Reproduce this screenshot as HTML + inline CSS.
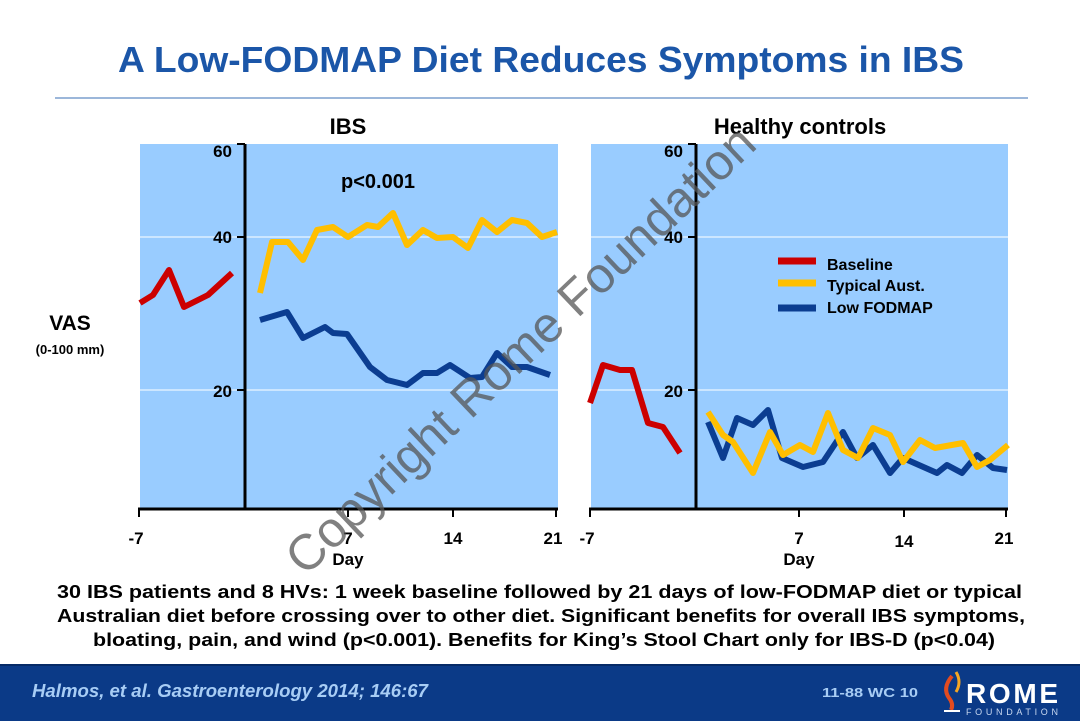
<!DOCTYPE html>
<html><head><meta charset="utf-8"><style>
body{margin:0;width:1080px;height:721px;background:#fff;overflow:hidden;position:relative;font-family:"Liberation Sans",sans-serif;}
</style></head><body>
<svg width="1080" height="721" style="position:absolute;left:0;top:0" font-family="Liberation Sans, sans-serif">
<text x="118" y="72" font-size="36" font-weight="bold" fill="#1b56a8" textLength="846" lengthAdjust="spacingAndGlyphs">A Low-FODMAP Diet Reduces Symptoms in IBS</text>
<line x1="55" y1="98" x2="1028" y2="98" stroke="#3a6fb5" stroke-width="1"/>
<text x="348" y="134" text-anchor="middle" font-size="22" font-weight="bold">IBS</text>
<text x="800" y="134" text-anchor="middle" font-size="22" font-weight="bold">Healthy controls</text>
<text x="70" y="330" text-anchor="middle" font-size="21" font-weight="bold">VAS</text>
<text x="70" y="354" text-anchor="middle" font-size="13" font-weight="bold">(0-100 mm)</text>
<!-- left panel -->
<rect x="140" y="144" width="418" height="365" fill="#99ccff"/>
<line x1="140" y1="237" x2="558" y2="237" stroke="#fff" stroke-width="1"/>
<line x1="140" y1="390" x2="558" y2="390" stroke="#fff" stroke-width="1"/>
<line x1="245" y1="144" x2="245" y2="510" stroke="#000" stroke-width="3"/>
<line x1="237" y1="144" x2="245" y2="144" stroke="#000" stroke-width="2"/>
<line x1="237" y1="237" x2="245" y2="237" stroke="#000" stroke-width="2"/>
<line x1="237" y1="390" x2="245" y2="390" stroke="#000" stroke-width="2"/>
<line x1="138" y1="509" x2="558" y2="509" stroke="#000" stroke-width="3"/>
<g stroke="#000" stroke-width="2"><line x1="139" y1="509" x2="139" y2="517"/><line x1="348" y1="509" x2="348" y2="517"/><line x1="453" y1="509" x2="453" y2="517"/><line x1="556" y1="509" x2="556" y2="517"/></g>
<g font-size="17" font-weight="bold" text-anchor="end"><text x="232" y="157">60</text><text x="232" y="243">40</text><text x="232" y="397">20</text></g>
<g font-size="17" font-weight="bold" text-anchor="middle"><text x="136" y="544">-7</text><text x="348" y="544">7</text><text x="453" y="544">14</text><text x="553" y="544">21</text><text x="348" y="565">Day</text></g>
<text x="378" y="188" text-anchor="middle" font-size="20" font-weight="bold">p&lt;0.001</text>
<g fill="none" stroke-width="6" stroke-linejoin="round">
<polyline stroke="#cc0000" points="140,303 153,295 169,270 184,307 208,295 232,273"/>
<polyline stroke="#ffbf00" points="260,293 272,242 288,242 303,260 317,230 333,227 348,237 367,225 378,227 393,213 407,245 423,230 437,238 453,237 468,248 482,220 497,232 512,220 527,223 542,237 557,232"/>
<polyline stroke="#0b3d91" points="260,320 287,312 303,338 325,327 333,333 347,334 370,367 387,380 407,385 423,373 437,373 450,365 470,378 482,377 497,353 512,367 527,367 550,375"/>
</g>
<!-- right panel -->
<rect x="591" y="144" width="417" height="365" fill="#99ccff"/>
<line x1="591" y1="237" x2="1008" y2="237" stroke="#fff" stroke-width="1"/>
<line x1="591" y1="390" x2="1008" y2="390" stroke="#fff" stroke-width="1"/>
<line x1="696" y1="144" x2="696" y2="510" stroke="#000" stroke-width="3"/>
<line x1="688" y1="144" x2="696" y2="144" stroke="#000" stroke-width="2"/>
<line x1="688" y1="237" x2="696" y2="237" stroke="#000" stroke-width="2"/>
<line x1="688" y1="390" x2="696" y2="390" stroke="#000" stroke-width="2"/>
<line x1="589" y1="509" x2="1008" y2="509" stroke="#000" stroke-width="3"/>
<g stroke="#000" stroke-width="2"><line x1="590" y1="509" x2="590" y2="517"/><line x1="799" y1="509" x2="799" y2="517"/><line x1="904" y1="509" x2="904" y2="517"/><line x1="1006" y1="509" x2="1006" y2="517"/></g>
<g font-size="17" font-weight="bold" text-anchor="end"><text x="683" y="157">60</text><text x="683" y="243">40</text><text x="683" y="397">20</text></g>
<g font-size="17" font-weight="bold" text-anchor="middle"><text x="587" y="544">-7</text><text x="799" y="544">7</text><text x="904" y="547">14</text><text x="1004" y="544">21</text><text x="799" y="565">Day</text></g>
<g fill="none" stroke-width="6" stroke-linejoin="round">
<polyline stroke="#cc0000" points="590,403 603,365 620,370 632,370 648,423 663,427 680,453"/>
<polyline stroke="#0b3d91" points="708,422 723,458 737,418 753,425 768,410 782,458 803,467 823,462 843,432 857,458 873,445 890,473 903,458 937,473 947,465 962,473 977,455 993,468 1007,470"/>
<polyline stroke="#ffbf00" points="708,412 723,435 733,442 753,473 770,432 783,455 800,445 813,452 828,413 843,450 858,458 873,428 890,435 903,462 920,440 935,448 963,443 977,467 990,460 1008,445"/>
</g>
<g stroke-width="7"><line x1="778" y1="261" x2="816" y2="261" stroke="#cc0000"/><line x1="778" y1="283" x2="816" y2="283" stroke="#ffbf00"/><line x1="778" y1="308" x2="816" y2="308" stroke="#0b3d91"/></g>
<g font-size="16" font-weight="bold"><text x="827" y="270">Baseline</text><text x="827" y="291">Typical Aust.</text><text x="827" y="313">Low FODMAP</text></g>
<g font-size="18" font-weight="bold" lengthAdjust="spacingAndGlyphs">
<text x="57" y="598" textLength="965" lengthAdjust="spacingAndGlyphs">30 IBS patients and 8 HVs: 1 week baseline followed by 21 days of low-FODMAP diet or typical</text>
<text x="57" y="622" textLength="968" lengthAdjust="spacingAndGlyphs">Australian diet before crossing over to other diet. Significant benefits for overall IBS symptoms,</text>
<text x="93" y="646" textLength="902" lengthAdjust="spacingAndGlyphs">bloating, pain, and wind (p&lt;0.001). Benefits for King’s Stool Chart only for IBS-D (p&lt;0.04)</text>
</g>
<text x="532" y="362" text-anchor="middle" font-size="50" fill="#555" fill-opacity="0.75" transform="rotate(-43.5 532 362)">Copyright Rome Foundation</text>
<rect x="0" y="664" width="1080" height="57" fill="#0b3a87"/>
<line x1="0" y1="665" x2="1080" y2="665" stroke="#062a66" stroke-width="2"/>
<text x="32" y="697" font-size="18" font-style="italic" font-weight="bold" fill="#a8cdf5" textLength="396" lengthAdjust="spacingAndGlyphs">Halmos, et al. Gastroenterology 2014; 146:67</text>
<text x="822" y="697" font-size="13" font-weight="bold" fill="#a8cdf5" textLength="96" lengthAdjust="spacingAndGlyphs">11-88   WC 10</text>
<path d="M952,676 q-10,12 -3,22 q5,6 2,12" stroke="#e34b1f" stroke-width="4" fill="none"/>
<path d="M956,672 q6,10 0,20" stroke="#f5a623" stroke-width="3" fill="none"/>
<line x1="944" y1="711" x2="960" y2="711" stroke="#fff" stroke-width="2"/>
<text x="966" y="703" font-size="28" font-weight="bold" fill="#fff" textLength="92">ROME</text>
<text x="966" y="715" font-size="9" fill="#c8d8f0" textLength="92">FOUNDATION</text>
</svg>
</body></html>
